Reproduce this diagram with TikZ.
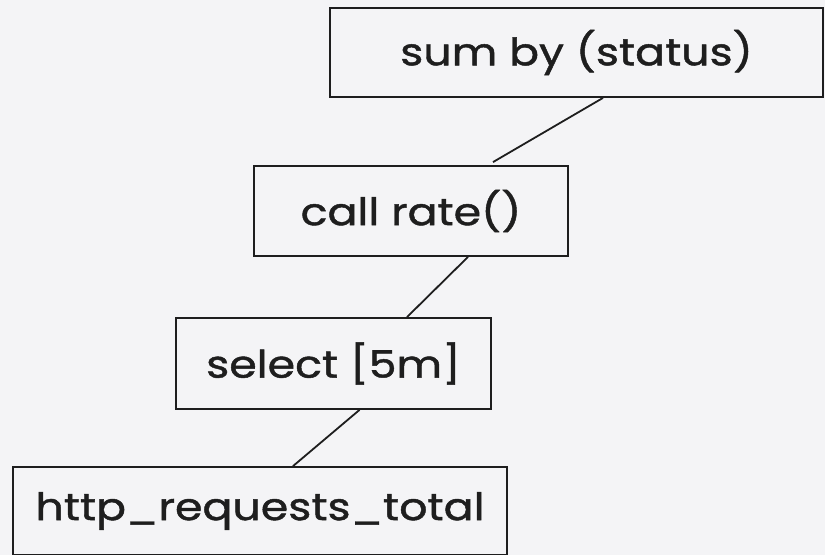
\documentclass[tikz,border=0pt]{standalone}
\usepackage{fontspec}
\setmainfont{Poppins}[FakeStretch=1.17,FakeBold=1.2]
\usetikzlibrary{calc}
\definecolor{bg}{RGB}{244,244,246}
\definecolor{ink}{RGB}{30,30,30}
\begin{document}
\begin{tikzpicture}[x=1bp,y=-1bp,
  opbox/.style={draw=ink,line width=1.8bp,rectangle,inner sep=0pt,
    font=\fontsize{38}{44}\selectfont,text=ink},
  link/.style={draw=ink,line width=1.8bp}]
\fill[bg] (0,0) rectangle (825,555);
\useasboundingbox (0,0) rectangle (825,555);
\node[opbox,minimum width=493bp,minimum height=89bp] (sum) at (576.5,52.5) {sum by (status)};
\node[opbox,minimum width=314bp,minimum height=90bp] (rate) at (411,211) {call rate()};
\node[opbox,minimum width=315bp,minimum height=91bp] (sel) at (333.5,363.5) {select [5m]};
\node[opbox,minimum width=494bp,minimum height=88bp] (http) at (260,511) {http\_requests\_total};
\draw[link] ($(sum.south)+(26.5,0)$) -- ($(rate.north)+(82,-3)$);
\draw[link] ($(rate.south)+(57,0)$) -- ($(sel.north)+(73.5,0)$);
\draw[link] ($(sel.south)+(26,0)$) -- ($(http.north)+(33,0)$);
\end{tikzpicture}
\end{document}
